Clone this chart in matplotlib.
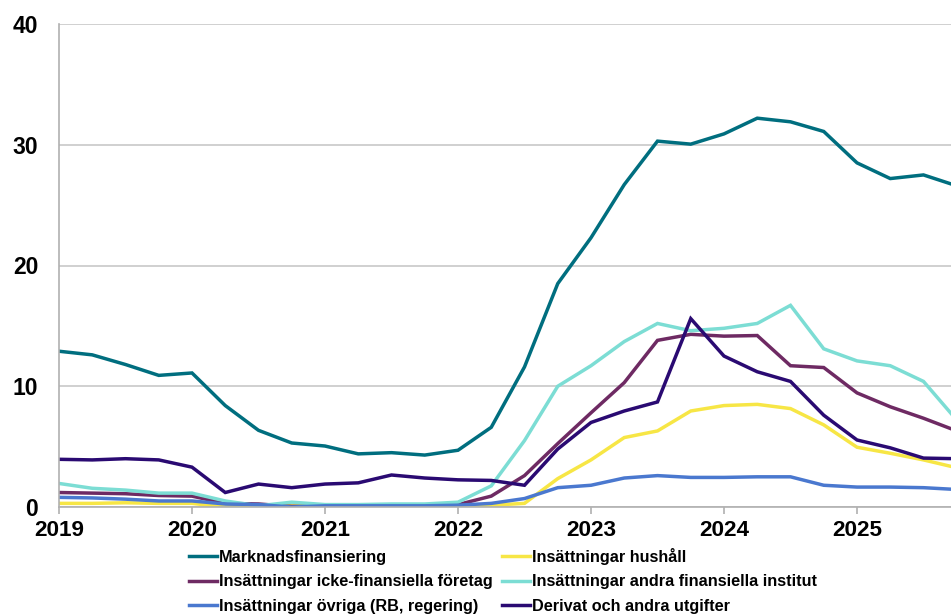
import matplotlib
matplotlib.use("Agg")
import matplotlib.pyplot as plt

plt.rcParams['font.family'] = ['Liberation Sans', 'DejaVu Sans']
plt.rcParams['font.weight'] = 'bold'

years = [2019, 2020, 2021, 2022, 2023, 2024, 2025]
quarters = [f"{y}Q{q}" for y in years for q in (1, 2, 3, 4)]

marknadsfinansiering = [12.9, 12.6, 11.8, 10.9, 11.1, 8.4, 6.35, 5.3, 5.05, 4.4, 4.5, 4.3,
                        4.7, 6.6, 11.6, 18.5, 22.3, 26.7, 30.3, 30.05, 30.9, 32.2, 31.9, 31.1,
                        28.5, 27.2, 27.5, 26.6]
hushall = [0.3, 0.3, 0.35, 0.3, 0.3, 0.0, 0.2, 0.1, 0.1, 0.1, 0.1, 0.1,
           0.1, 0.15, 0.3, 2.35, 3.9, 5.75, 6.3, 7.95, 8.4, 8.5, 8.15, 6.8,
           4.95, 4.45, 3.9, 3.25]
icke_fin = [1.2, 1.15, 1.1, 0.95, 0.9, 0.3, 0.25, 0.05, 0.1, 0.1, 0.15, 0.15,
            0.2, 0.9, 2.6, 5.25, 7.8, 10.3, 13.8, 14.3, 14.15, 14.2, 11.7, 11.55,
            9.45, 8.3, 7.35, 6.3]
andra_fin = [1.95, 1.55, 1.4, 1.15, 1.15, 0.5, 0.1, 0.4, 0.2, 0.2, 0.25, 0.25,
             0.4, 1.75, 5.5, 10.0, 11.7, 13.7, 15.2, 14.6, 14.8, 15.2, 16.7, 13.1,
             12.1, 11.7, 10.4, 7.2]
ovriga = [0.8, 0.75, 0.65, 0.5, 0.5, 0.25, 0.2, 0.0, 0.1, 0.1, 0.1, 0.1,
          0.15, 0.3, 0.7, 1.6, 1.8, 2.4, 2.6, 2.45, 2.45, 2.5, 2.5, 1.8,
          1.65, 1.65, 1.6, 1.45]
derivat = [3.95, 3.9, 4.0, 3.9, 3.3, 1.2, 1.9, 1.6, 1.9, 2.0, 2.65, 2.4,
           2.25, 2.2, 1.8, 4.8, 7.0, 7.95, 8.7, 15.6, 12.5, 11.2, 10.4, 7.6,
           5.55, 4.9, 4.05, 4.0]

series = [
    ("Marknadsfinansiering", marknadsfinansiering, "#006E7F"),
    ("Insättningar hushåll", hushall, "#F7E645"),
    ("Insättningar icke-finansiella företag", icke_fin, "#6E2A63"),
    ("Insättningar andra finansiella institut", andra_fin, "#7CDDD4"),
    ("Insättningar övriga (RB, regering)", ovriga, "#4A78CF"),
    ("Derivat och andra utgifter", derivat, "#2A0A72"),
]

x = [int(q[:4]) + (int(q[-1]) - 1) / 4 for q in quarters]

W, H = 951, 615
fig = plt.figure(figsize=(W / 100, H / 100), dpi=100)
ax = fig.add_axes([59 / W, 1 - 507 / H, 1 - 59 / W, (507 - 24) / H])

handles = {}
for name, vals, col in series:
    h, = ax.plot(x, vals, color=col, lw=2.5, label=name, solid_joinstyle='miter')
    handles[name] = h

ax.set_xlim(2019, 2019 + (W - 59) / 133)
ax.set_ylim(0, 40)
ax.set_yticks([0, 10, 20, 30, 40])
ax.set_xticks(years)
ax.set_xticklabels([str(y) for y in years])
ax.grid(axis='y', color='#C8C8C8', lw=1.2)
ax.set_axisbelow(True)
for s in ['top', 'right']:
    ax.spines[s].set_visible(False)
ax.spines['left'].set_color('#B0B0B0')
ax.spines['bottom'].set_color('#B0B0B0')
ax.spines['left'].set_linewidth(1.2)
ax.spines['bottom'].set_linewidth(1.2)
ax.tick_params(axis='y', length=0, pad=15, labelsize=16.5)
ax.tick_params(axis='x', length=5, width=1.2, color='#B0B0B0', pad=4.5, labelsize=16.2)
for lab in ax.get_xticklabels() + ax.get_yticklabels():
    lab.set_fontweight('bold')

order = ["Marknadsfinansiering", "Insättningar icke-finansiella företag",
         "Insättningar övriga (RB, regering)", "Insättningar hushåll",
         "Insättningar andra finansiella institut", "Derivat och andra utgifter"]
leg = fig.legend([handles[n] for n in order], order, ncol=2, frameon=False,
                 loc='upper left', bbox_to_anchor=(189 / W, 1 - 548 / H),
                 borderpad=0, borderaxespad=0, handlelength=1.75, handletextpad=0.1,
                 columnspacing=0.55, labelspacing=0.58,
                 prop={'size': 11.7, 'weight': 'bold'})

fig.savefig("out.png", dpi=100)
